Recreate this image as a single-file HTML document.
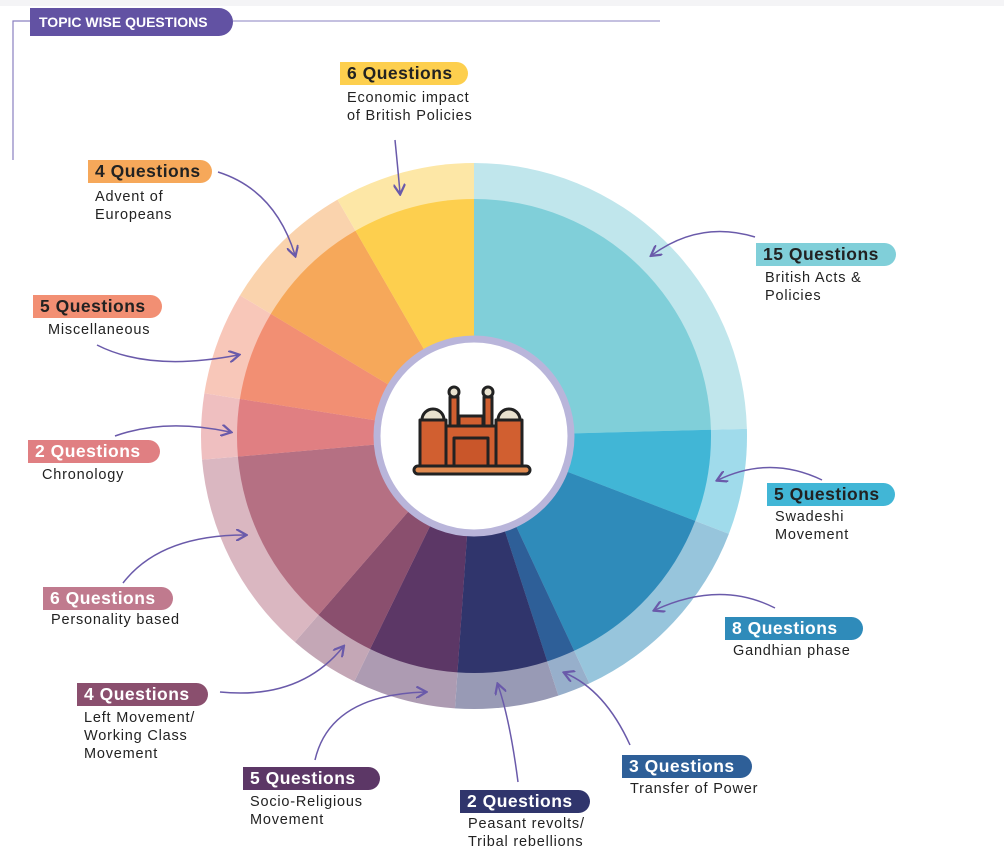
<!DOCTYPE html>
<html><head><meta charset="utf-8"><style>
html,body{margin:0;padding:0;background:#fff;}
body{width:1004px;height:865px;position:relative;overflow:hidden;font-family:"Liberation Sans",sans-serif;}
.pill{position:absolute;height:23px;line-height:23px;font-weight:bold;font-size:17.5px;letter-spacing:0.5px;padding-left:7px;border-radius:0 12px 12px 0;box-sizing:border-box;white-space:nowrap;}
.d{position:absolute;font-size:14.5px;letter-spacing:0.8px;line-height:18px;color:#222;white-space:nowrap;}
svg{position:absolute;left:0;top:0;}
</style></head><body>
<svg id="s" width="1004" height="865" viewBox="0 0 1004 865">
<defs><marker id="a" markerWidth="8" markerHeight="8" refX="6" refY="4" orient="auto"><path d="M0,0 L7,4 L0,8" fill="none" stroke="#6a5aaa" stroke-width="1.5"/></marker></defs>
<rect x="0" y="0" width="1004" height="6" fill="#f4f4f6"/>
<path d="M233,21 L660,21" stroke="#8a80c0" stroke-width="1"/>
<path d="M30,21 L13,21 L13,160" stroke="#8a80c0" stroke-width="1.2" fill="none"/>
<g id="w"></g>
<circle cx="474" cy="436" r="97" fill="#fff" stroke="#b9b5da" stroke-width="7"/>
<g transform="translate(412,382)" stroke="#222" stroke-width="3" stroke-linejoin="round">
<rect x="38" y="15" width="8" height="42" fill="#d15f30"/>
<rect x="72" y="15" width="8" height="42" fill="#d15f30"/>
<circle cx="42" cy="10" r="5" fill="#e9e2cf"/><circle cx="76" cy="10" r="5" fill="#e9e2cf"/>
<rect x="47" y="34" width="24" height="10" fill="#d15f30"/>
<rect x="8" y="38" width="26" height="48" fill="#d15f30"/>
<rect x="84" y="38" width="26" height="48" fill="#d15f30"/>
<path d="M10,38 A11,11 0 0 1 32,38 Z" fill="#e9e2cf"/><path d="M86,38 A11,11 0 0 1 108,38 Z" fill="#e9e2cf"/>
<rect x="34" y="44" width="50" height="42" fill="#d15f30"/>
<rect x="42" y="56" width="34" height="30" fill="#c9562a"/>
<rect x="2" y="84" width="116" height="8" rx="4" fill="#e08a50"/>
</g>
<g fill="none" stroke="#6a5aaa" stroke-width="1.5" marker-end="url(#a)">
<path d="M395,140 Q398,170 400,193"/>
<path d="M218,172 Q275,190 295,255"/>
<path d="M97,345 Q150,372 238,355"/>
<path d="M115,436 Q165,418 230,432"/>
<path d="M123,583 Q160,535 245,535"/>
<path d="M220,692 Q300,700 343,647"/>
<path d="M315,760 Q330,695 425,692"/>
<path d="M518,782 Q510,720 498,685"/>
<path d="M630,745 Q605,690 565,673"/>
<path d="M775,608 Q720,580 655,610"/>
<path d="M822,480 Q770,455 718,480"/>
<path d="M755,237 Q700,220 652,255"/>
</g>
</svg>
<div class="pill" style="left:30px;top:8px;width:203px;height:28px;line-height:28px;font-size:14px;letter-spacing:0;background:#6252a3;color:#fff;border-radius:0 14px 14px 0;padding-left:9px">TOPIC WISE QUESTIONS</div>

<div class="pill" style="left:340px;top:62px;width:128px;background:#fdcf4e;color:#222">6 Questions</div>
<div class="d" style="left:347px;top:89px">Economic impact<br>of British Policies</div>
<div class="pill" style="left:88px;top:160px;width:124px;background:#f6a85a;color:#222">4 Questions</div>
<div class="d" style="left:95px;top:188px">Advent of<br>Europeans</div>
<div class="pill" style="left:33px;top:295px;width:129px;background:#f28f73;color:#222">5 Questions</div>
<div class="d" style="left:48px;top:321px">Miscellaneous</div>
<div class="pill" style="left:28px;top:440px;width:132px;background:#e07f82;color:#fff">2 Questions</div>
<div class="d" style="left:42px;top:466px">Chronology</div>
<div class="pill" style="left:43px;top:587px;width:130px;background:#c07a8e;color:#fff">6 Questions</div>
<div class="d" style="left:51px;top:611px">Personality based</div>
<div class="pill" style="left:77px;top:683px;width:131px;background:#8a4f6e;color:#fff">4 Questions</div>
<div class="d" style="left:84px;top:709px">Left Movement/<br>Working Class<br>Movement</div>
<div class="pill" style="left:243px;top:767px;width:137px;background:#5c3766;color:#fff">5 Questions</div>
<div class="d" style="left:250px;top:793px">Socio-Religious<br>Movement</div>
<div class="pill" style="left:460px;top:790px;width:130px;background:#30356c;color:#fff">2 Questions</div>
<div class="d" style="left:468px;top:815px">Peasant revolts/<br>Tribal rebellions</div>
<div class="pill" style="left:622px;top:755px;width:130px;background:#2e5f98;color:#fff">3 Questions</div>
<div class="d" style="left:630px;top:780px">Transfer of Power</div>
<div class="pill" style="left:725px;top:617px;width:138px;background:#2f8bba;color:#fff">8 Questions</div>
<div class="d" style="left:733px;top:642px">Gandhian phase</div>
<div class="pill" style="left:767px;top:483px;width:128px;background:#41b6d6;color:#222">5 Questions</div>
<div class="d" style="left:775px;top:508px">Swadeshi<br>Movement</div>
<div class="pill" style="left:756px;top:243px;width:140px;background:#80cfd9;color:#222">15 Questions</div>
<div class="d" style="left:765px;top:269px">British Acts &amp;<br>Policies</div>

<script>
var cx=474,cy=436,R=273,r=237;
var segs=[[0,88.5,"#80cfd9","#c0e6ec"],[88.5,111,"#41b6d6","#a0dbeb"],[111,155,"#2f8bba","#97c5dc"],[155,162,"#2e5f98","#97afcb"],[162,184,"#30356c","#989ab5"],[184,206,"#5c3766","#ad9bb2"],[206,221,"#8a4f6e","#c4a7b6"],[221,265,"#b57083","#dab7c1"],[265,279,"#e07f82","#efbfc0"],[279,301,"#f28f73","#f8c7b9"],[301,330,"#f6a85a","#fad3ad"],[330,360,"#fdcf4e","#fde7a6"]];
function p(rad,a){a=a*Math.PI/180;return [cx+rad*Math.sin(a),cy-rad*Math.cos(a)];}
function wedge(rad,a0,a1,f){var s=p(rad,a0),e=p(rad,a1),l=(a1-a0)>180?1:0;
return '<path d="M'+cx+','+cy+' L'+s[0]+','+s[1]+' A'+rad+','+rad+' 0 '+l+' 1 '+e[0]+','+e[1]+' Z" fill="'+f+'"/>';}
var h='';segs.forEach(function(g){h+=wedge(R,g[0],g[1],g[3]);});
segs.forEach(function(g){h+=wedge(r,g[0],g[1],g[2]);});
document.getElementById('w').innerHTML=h;
</script>
</body></html>
